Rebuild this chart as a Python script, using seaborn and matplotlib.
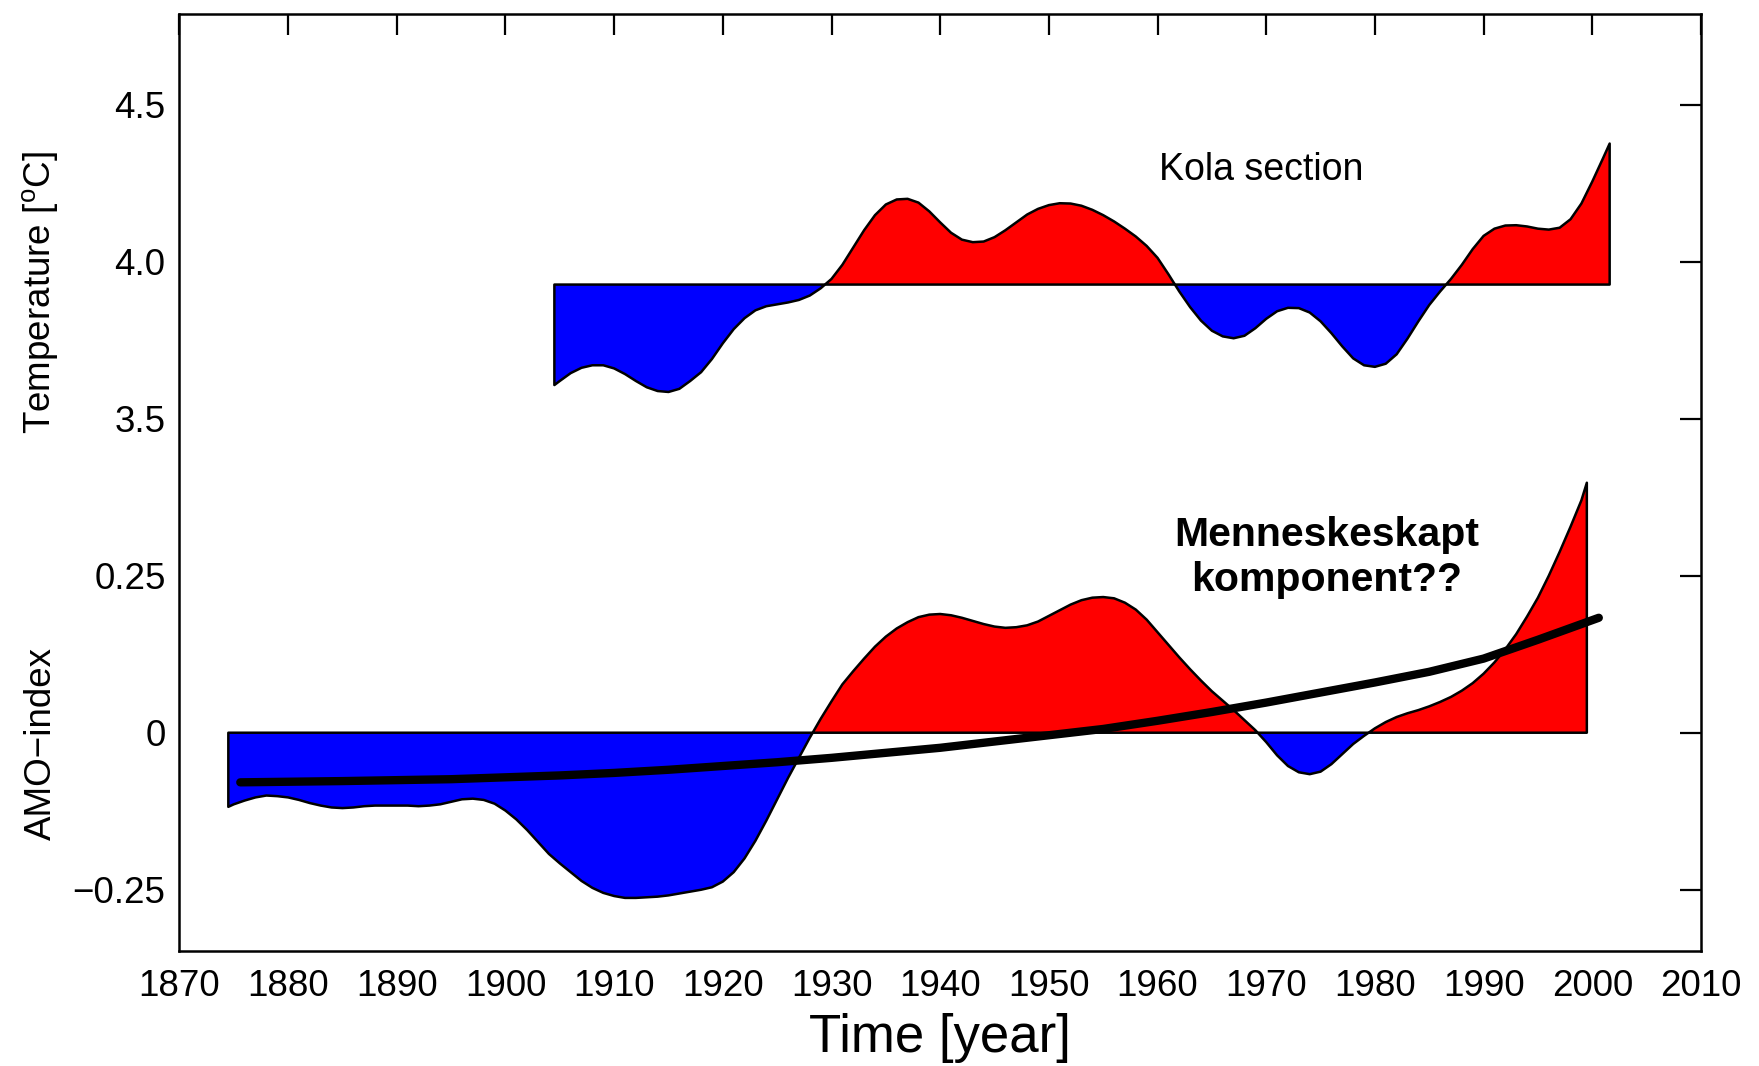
import numpy as np
import pandas as pd
import matplotlib
matplotlib.use("Agg")
import matplotlib.pyplot as plt
import seaborn as sns

# ---------------- data ----------------
# AMO index (smoothed), yearly
amo_years = [1874.5] + list(range(1875, 2000)) + [1999.5]
amo_values = [
    -0.118,                                                             # 1874.5
    -0.114, -0.108, -0.103, -0.100, -0.101, -0.103, -0.107, -0.112, -0.116, -0.119,  # 1875-1884
    -0.120, -0.119, -0.117, -0.116, -0.116, -0.116, -0.116, -0.117, -0.116, -0.114,  # 1885-1894
    -0.110, -0.106, -0.105, -0.107, -0.113, -0.124, -0.138, -0.155, -0.174, -0.193,  # 1895-1904
    -0.208, -0.222, -0.236, -0.247, -0.255, -0.260, -0.263, -0.263, -0.262, -0.261,  # 1905-1914
    -0.259, -0.256, -0.253, -0.250, -0.246, -0.237, -0.222, -0.200, -0.172, -0.140,  # 1915-1924
    -0.106, -0.072, -0.040, -0.008, 0.022, 0.050, 0.077, 0.098, 0.118, 0.137,        # 1925-1934
    0.153, 0.166, 0.176, 0.184, 0.188, 0.189, 0.187, 0.183, 0.178, 0.173,            # 1935-1944
    0.169, 0.167, 0.168, 0.171, 0.177, 0.186, 0.195, 0.204, 0.211, 0.215,            # 1945-1954
    0.216, 0.214, 0.207, 0.196, 0.180, 0.160, 0.140, 0.120, 0.101, 0.083,            # 1955-1964
    0.066, 0.051, 0.036, 0.020, 0.004, -0.015, -0.036, -0.053, -0.063, -0.066,       # 1965-1974
    -0.062, -0.050, -0.034, -0.018, -0.005, 0.007, 0.017, 0.025, 0.031, 0.036,       # 1975-1984
    0.042, 0.049, 0.057, 0.067, 0.079, 0.094, 0.112, 0.133, 0.157, 0.185,            # 1985-1994
    0.215, 0.250, 0.288, 0.328, 0.370,                                               # 1995-1999
    0.398,                                                                           # 1999.5
]

# Kola section temperature (deg C, smoothed), yearly, and its reference level
kola_years = [1904.5] + list(range(1905, 2002)) + [2001.6]
kola_temp = [
    3.607,                                                              # 1904.5
    3.620, 3.645, 3.662, 3.670, 3.670, 3.660, 3.642, 3.620, 3.600, 3.588,  # 1905-1914
    3.585, 3.595, 3.620, 3.648, 3.690, 3.740, 3.785, 3.820, 3.845, 3.858,  # 1915-1924
    3.864, 3.870, 3.878, 3.892, 3.915, 3.945, 3.990, 4.045, 4.100, 4.148,  # 1925-1934
    4.182, 4.198, 4.200, 4.188, 4.160, 4.125, 4.092, 4.070, 4.062, 4.064,  # 1935-1944
    4.078, 4.100, 4.125, 4.150, 4.168, 4.180, 4.186, 4.185, 4.178, 4.165,  # 1945-1954
    4.148, 4.128, 4.105, 4.080, 4.050, 4.012, 3.960, 3.905, 3.855, 3.812,  # 1955-1964
    3.780, 3.762, 3.756, 3.764, 3.788, 3.818, 3.842, 3.853, 3.852, 3.838,  # 1965-1974
    3.810, 3.772, 3.730, 3.692, 3.670, 3.665, 3.675, 3.705, 3.755, 3.810,  # 1975-1984
    3.862, 3.905, 3.945, 3.990, 4.040, 4.082, 4.105, 4.115, 4.116, 4.112,  # 1985-1994
    4.105, 4.102, 4.108, 4.135, 4.185, 4.255, 4.330,                       # 1995-2001
    4.376,                                                                 # 2001.6
]
kola_ref = 3.927

# Long-term trend of the AMO index
trend_years = [1875.6, 1885, 1895, 1900, 1905, 1910, 1915, 1920, 1925, 1930, 1935, 1940,
               1945, 1950, 1955, 1960, 1965, 1970, 1975, 1980, 1985, 1990, 1995, 2000.6]
trend_values = [-0.079, -0.077, -0.074, -0.071, -0.068, -0.064, -0.059, -0.053, -0.047,
                -0.040, -0.032, -0.024, -0.014, -0.004, 0.006, 0.019, 0.033, 0.048, 0.064,
                0.080, 0.097, 0.118, 0.148, 0.183]

year_ticks = list(range(1870, 2011, 10))
amo_ticks = [-0.25, 0.0, 0.25]
amo_tick_labels = ["\u22120.25", "0", "0.25"]
temp_ticks = [3.5, 4.0, 4.5]
temp_tick_labels = ["3.5", "4.0", "4.5"]


# Temperatures share the axis with the AMO index: 3.5 degC sits at 0.5, 0.5 degC per 0.25
def temp_to_axis(t):
    return 0.5 + (np.asarray(t, dtype=float) - 3.5) * 0.5


# ---------------- style ----------------
sns.set_theme(style="white")
plt.rcParams["font.family"] = ["Liberation Sans", "DejaVu Sans"]
plt.rcParams["mathtext.fontset"] = "custom"
plt.rcParams["mathtext.rm"] = "Liberation Sans"
plt.rcParams["axes.unicode_minus"] = True

fig = plt.figure(figsize=(17.59, 10.66), dpi=100)
ax = fig.add_axes([0.102, 0.1076, 0.865, 0.8797])

RED = "#ff0000"
BLUE = "#0000ff"
EDGE_LW = 1.8

# AMO anomalies
amo_x = np.array(amo_years, dtype=float)
amo_y = np.array(amo_values, dtype=float)
ax.fill_between(amo_x, amo_y, 0, where=amo_y >= 0, interpolate=True,
                facecolor=RED, edgecolor="black", linewidth=EDGE_LW, zorder=2)
ax.fill_between(amo_x, amo_y, 0, where=amo_y <= 0, interpolate=True,
                facecolor=BLUE, edgecolor="black", linewidth=EDGE_LW, zorder=2)

# Kola section anomalies around the reference level
kola_x = np.array(kola_years, dtype=float)
kola_y = temp_to_axis(kola_temp)
kola_base = float(temp_to_axis(kola_ref))
ax.fill_between(kola_x, kola_y, kola_base, where=kola_y >= kola_base, interpolate=True,
                facecolor=RED, edgecolor="black", linewidth=EDGE_LW, zorder=2)
ax.fill_between(kola_x, kola_y, kola_base, where=kola_y <= kola_base, interpolate=True,
                facecolor=BLUE, edgecolor="black", linewidth=EDGE_LW, zorder=2)

# Trend curve
trend_df = pd.DataFrame({"year": trend_years, "amo": trend_values})
sns.lineplot(data=trend_df, x="year", y="amo", ax=ax, color="black",
             linewidth=6.0, zorder=4, sort=True)

# ---------------- axes ----------------
ax.set_xlim(1870, 2010)
ax.set_ylim(-0.348, 1.145)
ax.set_xticks(year_ticks)
ax.set_xticklabels([str(y) for y in year_ticks])
ax.set_yticks(amo_ticks + list(temp_to_axis(temp_ticks)))
ax.set_yticklabels(amo_tick_labels + temp_tick_labels)
ax.tick_params(axis="both", which="major", direction="in", length=15, width=1.6,
               top=True, right=True, labelsize=26.5, colors="black")
ax.tick_params(axis="x", pad=13)
ax.tick_params(axis="y", pad=10)
for side in ax.spines.values():
    side.set_visible(True)
    side.set_color("black")
    side.set_linewidth(1.8)
ax.grid(False)

ax.set_xlabel("Time [year]", fontsize=38, color="black")
ax.xaxis.set_label_coords(0.5, -0.066)
ax.set_ylabel("")

ax.text(-0.091, 0.702, "Temperature [$^{\\mathrm{o}}$C]", transform=ax.transAxes,
        rotation=90, ha="center", va="center", fontsize=26.5, color="black")
ax.text(-0.091, 0.222, "AMO\u2212index", transform=ax.transAxes,
        rotation=90, ha="center", va="center", fontsize=26.5, color="black")

ax.text(1969.5, 0.896, "Kola section", ha="center", va="center", fontsize=27,
        color="black")
ax.text(1975.6, 0.279, "Menneskeskapt\nkomponent??", ha="center", va="center",
        fontsize=29.5, fontweight="bold", color="black", linespacing=1.25)

fig.savefig("out.png", dpi=100, facecolor="white")
